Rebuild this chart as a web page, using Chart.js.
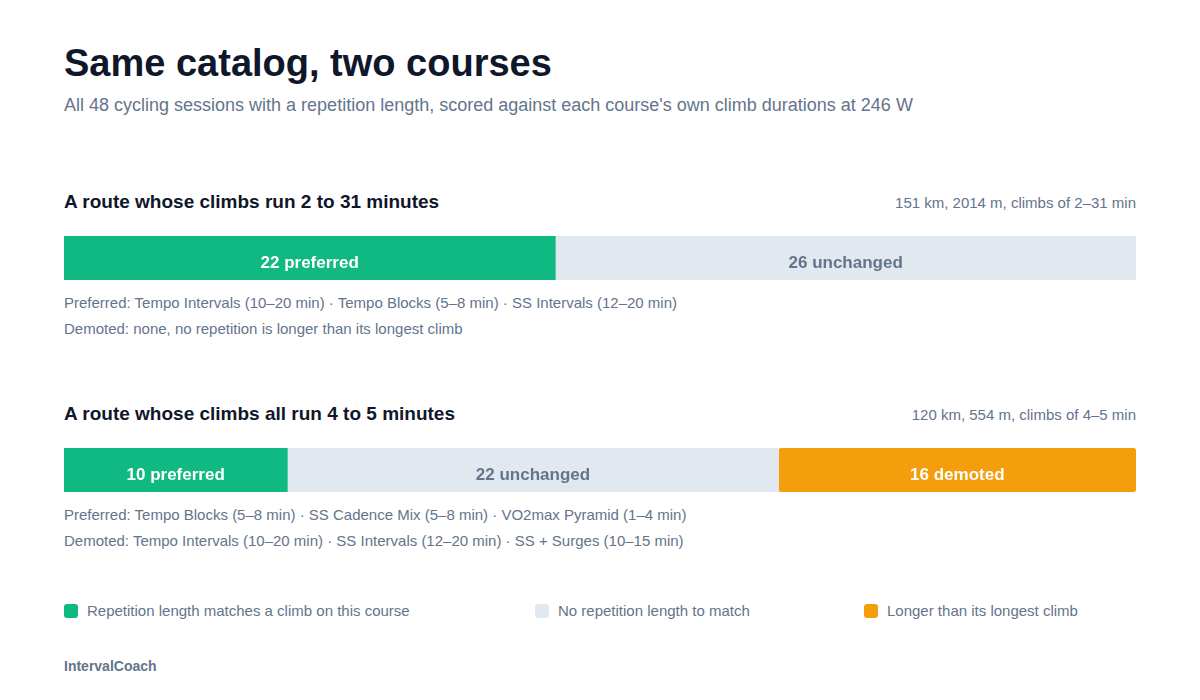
<!DOCTYPE html>
<html>
<head>
<meta charset="utf-8">
<script src="https://cdn.jsdelivr.net/npm/chart.js@4"></script>
<style>
  html, body { margin: 0; padding: 0; background: #ffffff; }
  body { width: 1200px; height: 700px; position: relative; font-family: "Liberation Sans", Arial, Helvetica, sans-serif; overflow: hidden; }
  .abs { position: absolute; white-space: nowrap; }
  .title { left: 64px; top: 42px; font-size: 38px; font-weight: bold; color: #0f172a; }
  .subtitle { left: 64px; top: 95px; font-size: 18px; color: #64748b; }
  .heading { left: 64px; font-size: 19px; font-weight: bold; color: #0f172a; }
  .meta { right: 64px; font-size: 15px; color: #64748b; }
  .note { left: 64px; font-size: 15px; color: #64748b; }
  .bar { position: absolute; left: 64px; width: 1072px; height: 44px; }
  .legend { top: 602px; font-size: 15px; color: #64748b; display: flex; align-items: center; }
  .legend i { display: inline-block; width: 14px; height: 14px; border-radius: 3px; margin-right: 9px; }
  .footer { left: 64px; top: 658px; font-size: 14px; font-weight: bold; color: #64748b; }
</style>
</head>
<body>
<div class="abs title">Same catalog, two courses</div>
<div class="abs subtitle">All 48 cycling sessions with a repetition length, scored against each course's own climb durations at 246 W</div>

<div class="abs heading" style="top:191px">A route whose climbs run 2 to 31 minutes</div>
<div class="abs meta" style="top:194px">151 km, 2014 m, climbs of 2–31 min</div>
<div class="bar" style="top:236px"><canvas id="course1"></canvas></div>
<div class="abs note" style="top:294px">Preferred: Tempo Intervals (10–20 min) · Tempo Blocks (5–8 min) · SS Intervals (12–20 min)</div>
<div class="abs note" style="top:320px">Demoted: none, no repetition is longer than its longest climb</div>

<div class="abs heading" style="top:403px">A route whose climbs all run 4 to 5 minutes</div>
<div class="abs meta" style="top:406px">120 km, 554 m, climbs of 4–5 min</div>
<div class="bar" style="top:448px"><canvas id="course2"></canvas></div>
<div class="abs note" style="top:506px">Preferred: Tempo Blocks (5–8 min) · SS Cadence Mix (5–8 min) · VO2max Pyramid (1–4 min)</div>
<div class="abs note" style="top:532px">Demoted: Tempo Intervals (10–20 min) · SS Intervals (12–20 min) · SS + Surges (10–15 min)</div>

<div class="abs legend" style="left:64px"><i style="background:#10b981"></i>Repetition length matches a climb on this course</div>
<div class="abs legend" style="left:535px"><i style="background:#e2e8f0"></i>No repetition length to match</div>
<div class="abs legend" style="left:864px"><i style="background:#f59e0b"></i>Longer than its longest climb</div>

<div class="abs footer">IntervalCoach</div>

<script>
// outcome groups, same order in both courses
const outcomes = ['preferred', 'unchanged', 'demoted'];
const outcomeColors = ['#10b981', '#e2e8f0', '#f59e0b'];
const labelColors = ['#ffffff', '#64748b', '#ffffff'];

// session counts per course
const course1Counts = [22, 26, 0];
const course2Counts = [10, 22, 16];
const totalSessions = 48;

// writes "22 preferred" etc. in the middle of each segment
const segmentLabels = {
  id: 'segmentLabels',
  afterDatasetsDraw(chart) {
    const ctx = chart.ctx;
    ctx.save();
    ctx.font = 'bold 17px "Liberation Sans", Arial, sans-serif';
    ctx.textAlign = 'center';
    ctx.textBaseline = 'middle';
    chart.data.datasets.forEach((ds, i) => {
      const value = ds.data[0];
      if (!value) return;
      const bar = chart.getDatasetMeta(i).data[0];
      const cx = (bar.base + bar.x) / 2;
      ctx.fillStyle = labelColors[i];
      ctx.fillText(`${value} ${outcomes[i]}`, cx, bar.y + 5);
    });
    ctx.restore();
  }
};

function drawCourse(canvasId, counts) {
  const ctx = document.getElementById(canvasId).getContext('2d');
  return new Chart(ctx, {
    type: 'bar',
    data: {
      labels: ['sessions'],
      datasets: outcomes.map((name, i) => ({
        label: name,
        data: [counts[i]],
        backgroundColor: outcomeColors[i],
        borderWidth: 0,
        borderRadius: i === 1 ? 0 : 4,
        borderSkipped: false,
        barPercentage: 1,
        categoryPercentage: 1
      }))
    },
    options: {
      indexAxis: 'y',
      responsive: true,
      maintainAspectRatio: false,
      animation: false,
      layout: { padding: 0 },
      plugins: {
        legend: { display: false },
        tooltip: { enabled: false }
      },
      scales: {
        x: { stacked: true, min: 0, max: totalSessions, display: false },
        y: { stacked: true, display: false }
      }
    },
    plugins: [segmentLabels]
  });
}

drawCourse('course1', course1Counts);
drawCourse('course2', course2Counts);
</script>
</body>
</html>
